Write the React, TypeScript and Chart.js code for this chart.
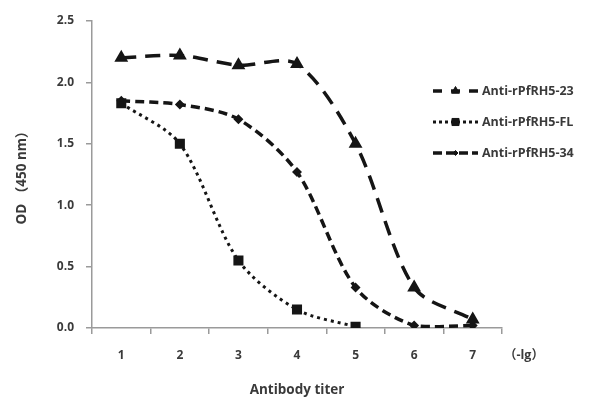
import React, { useEffect, useRef } from "react";
import { Chart, registerables } from "chart.js";
import { drawPoint } from "chart.js/helpers";

Chart.register(...registerables);

const categories = ["1", "2", "3", "4", "5", "6", "7"];
const seriesNames = ["Anti-rPfRH5-23", "Anti-rPfRH5-FL", "Anti-rPfRH5-34"];
const values23 = [2.2, 2.22, 2.14, 2.15, 1.5, 0.33, 0.07];
const valuesFL = [1.83, 1.5, 0.55, 0.15, 0.01, null, null];
const values34 = [1.85, 1.82, 1.7, 1.27, 0.33, 0.02, 0.02];
const yTicks = [0, 0.5, 1.0, 1.5, 2.0, 2.5];

const FONT = "'Open Sans', 'Noto Sans CJK SC', sans-serif";
const TEXT = "#3a3a3a";
const AXIS = "#9a9a9a";

const overlayPlugin = {
  id: "overlay",
  afterDraw(chart: any) {
    const { ctx, chartArea } = chart;
    ctx.save();
    const x0 = chartArea.right - 69;
    const x1 = chartArea.right - 24;
    chart.data.datasets.forEach((ds: any, i: number) => {
      const y = chartArea.top + 70 + i * 31;
      ctx.strokeStyle = ds.borderColor;
      ctx.lineWidth = ds.borderWidth;
      ctx.setLineDash(ds.legendDash);
      ctx.beginPath();
      ctx.moveTo(x0, y);
      ctx.lineTo(x1, y);
      ctx.stroke();
      ctx.setLineDash([]);
      ctx.fillStyle = ds.pointBackgroundColor;
      ctx.strokeStyle = ds.pointBorderColor;
      ctx.lineWidth = 1;
      drawPoint(ctx, { pointStyle: ds.pointStyle, radius: ds.pointRadius, rotation: 0, borderWidth: 1 }, (x0 + x1) / 2, y);
      ctx.fillStyle = TEXT;
      ctx.font = `bold 12.5px ${FONT}`;
      ctx.textAlign = "left";
      ctx.textBaseline = "middle";
      ctx.fillText(ds.label, chartArea.right - 20, y);
    });
    ctx.fillStyle = TEXT;
    ctx.font = `bold 12.5px ${FONT}`;
    ctx.textAlign = "left";
    ctx.textBaseline = "middle";
    ctx.fillText("（-lg）", chartArea.right + 2, chartArea.bottom + 27);
    ctx.restore();
  },
};

export default function App() {
  const ref = useRef<HTMLCanvasElement>(null);
  useEffect(() => {
    document.body.style.margin = "0";
    const ctx = ref.current!.getContext("2d")!;
    const common = {
      borderColor: "#151515",
      pointBackgroundColor: "#151515",
      pointBorderColor: "#151515",
      fill: false,
      tension: 0.3,
      spanGaps: false,
    };
    const chart = new Chart(ctx, {
      type: "line",
      data: {
        labels: categories,
        datasets: [
          {
            ...common,
            label: seriesNames[0],
            data: values23,
            borderWidth: 3.5,
            borderDash: [15, 9],
            legendDash: [9, 9],
            pointStyle: "triangle",
            pointRadius: 4.5,
          } as any,
          {
            ...common,
            label: seriesNames[1],
            data: valuesFL,
            borderWidth: 3,
            borderDash: [3, 4],
            legendDash: [3, 3],
            pointStyle: "rect",
            pointRadius: 5,
          } as any,
          {
            ...common,
            label: seriesNames[2],
            data: values34,
            borderWidth: 3.5,
            borderDash: [9, 5],
            legendDash: [9, 4],
            pointStyle: "rectRot",
            pointRadius: 2.5,
          } as any,
        ],
      },
      options: {
        animation: false,
        responsive: false,
        layout: { padding: { top: 21, right: 88, left: 0, bottom: 0 } },
        plugins: { legend: { display: false }, tooltip: { enabled: false } },
        scales: {
          x: {
            type: "category",
            offset: true,
            grid: { display: true, offset: true, drawOnChartArea: false, drawTicks: true, tickLength: 6, color: AXIS, lineWidth: 1.5 },
            border: { display: true, color: AXIS, width: 1.5 },
            ticks: { color: TEXT, font: { family: FONT, size: 12, weight: "bold" }, padding: 14 },
            title: { display: true, text: "Antibody titer", color: TEXT, font: { family: FONT, size: 13.5, weight: "bold" }, padding: { top: 0, bottom: 5 } },
            afterFit: (s: any) => { s.height = 75; },
          },
          y: {
            min: 0,
            max: 2.5,
            afterBuildTicks: (s: any) => { s.ticks = yTicks.map((v) => ({ value: v })); },
            grid: { display: true, drawOnChartArea: false, drawTicks: true, tickLength: 6, color: AXIS, lineWidth: 1.5 },
            border: { display: true, color: AXIS, width: 1.5 },
            ticks: { color: TEXT, font: { family: FONT, size: 12, weight: "bold" }, padding: 12, callback: (v: any) => Number(v).toFixed(1) },
            title: { display: true, text: "OD （450 nm）", color: TEXT, font: { family: FONT, size: 13.5, weight: "bold" }, padding: { top: 14, bottom: 0 } },
            afterFit: (s: any) => { s.width = 92; },
          },
        },
      },
      plugins: [overlayPlugin],
    });
    return () => chart.destroy();
  }, []);
  return <canvas ref={ref} width={590} height={403} style={{ display: "block" }} />;
}
